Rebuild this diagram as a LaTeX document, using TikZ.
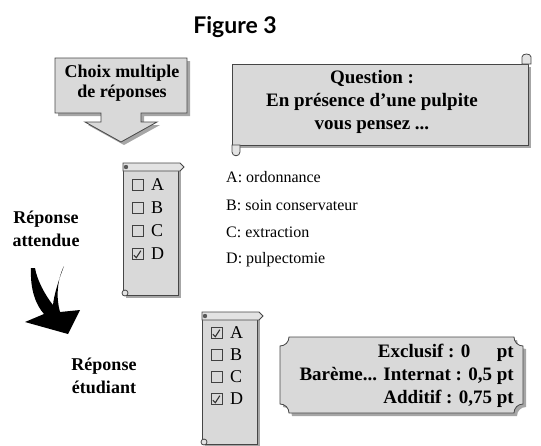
\documentclass[tikz,border=0pt]{standalone}
\usepackage{fontspec}
\setmainfont{Liberation Serif}
\newfontfamily\titrefont{Lato}
\usetikzlibrary{positioning}

\tikzset{
  fond/.style={fill=gray!30, draw=gray!55!black, line width=0.8pt,
    preaction={fill=gray!70, draw=none, transform canvas={shift={(3pt,-3pt)}}}},
  barre/.style={fill=gray!22, draw=gray!55!black, line width=0.8pt},
  gras/.style={font=\bfseries\fontsize{18}{23}\selectfont, align=center, inner sep=0pt},
  reponse/.style={font=\fontsize{16}{18}\selectfont, anchor=west, inner sep=0pt},
  case/.style={draw=black!75, line width=1.3pt, minimum size=11pt, inner sep=0pt},
  lettre/.style={font=\fontsize{18}{20}\selectfont, anchor=west, inner sep=0pt},
  coche/.style={line width=1.1pt, black!80},
  rouleau/.pic={
    \filldraw[fond] (0,4) rectangle (55,132);
    \filldraw[barre] (0,0) -- (57,0) -- (61,4) -- (57,8) -- (0,8) -- cycle;
    \fill[black!65] (3,4) circle (2.2);
    \filldraw[barre] (2,130) circle (3);
  },
}

\begin{document}
\begin{tikzpicture}[x=1pt, y=-1pt]
    \useasboundingbox (0,0) rectangle (541,445);

    % Titre
    \node[font=\titrefont\bfseries\fontsize{23}{26}\selectfont] (titre) at (235,27) {Figure 3};

    % Fleche "choix multiple"
    \filldraw[fond] (55,58) -- (187,58) -- (187,113) -- (141,113) -- (141,122) -- (157,122)
        -- (121,142) -- (85,122) -- (101,122) -- (101,113) -- (55,113) -- cycle;
    \node[gras, font=\bfseries\fontsize{18}{20}\selectfont] (choix) at (122,83) {Choix multiple\\de réponses};

    % Parchemin de la question
    \filldraw[fond] (232,64) rectangle (528,145);
    \filldraw[barre] (522,64) -- (522,57) .. controls (522,53) and (531,53) .. (531,57) -- (531,64) -- cycle;
    \filldraw[barre] (232,145) -- (232,152) .. controls (232,157) and (240,157) .. (240,152) -- (240,145) -- cycle;
    \node[gras, font=\bfseries\fontsize{19}{23}\selectfont] (question) at (372,102)
        {Question :\\En présence d'une pulpite\\vous pensez ...};

    % Propositions
    \node[reponse] (repA) at (226,177) {A: ordonnance};
    \node[reponse] (repB) at (226,205) {B: soin conservateur};
    \node[reponse] (repC) at (226,232) {C: extraction};
    \node[reponse] (repD) at (226,260) {D: pulpectomie};

    % Reponse attendue
    \pic at (123,163) {rouleau};
    \foreach \l/\dy in {A/22,B/45,C/68,D/91} {
        \node[case] (att\l) at (138,163+\dy) {};
        \node[lettre] (latt\l) at (151,163+\dy) {\l};
    }
    \draw[coche] (attD.south west) ++(2,-5) -- ++(2.5,2.5) -- ++(4.5,-7);
    \node[gras] (attendue) at (46,229) {Réponse\\attendue};

    % Fleche courbe
    \fill[black] (31,268) .. controls (30,290) and (36,305) .. (44,314) -- (25,322) -- (68,334)
        -- (80,310) -- (60,312) .. controls (56,298) and (57,280) .. (64,266)
        .. controls (58,282) and (54,295) .. (53,305) .. controls (45,295) and (37,280) .. (35,268) -- cycle;

    % Reponse etudiant
    \node[gras] (etudiant) at (104,376) {Réponse\\étudiant};
    \pic at (202,312) {rouleau};
    \foreach \l/\dy in {A/21,B/43,C/65,D/87} {
        \node[case] (etu\l) at (217,312+\dy) {};
        \node[lettre] (letu\l) at (230,312+\dy) {\l};
    }
    \draw[coche] (etuA.south west) ++(2,-5) -- ++(2.5,2.5) -- ++(4.5,-7);
    \draw[coche] (etuD.south west) ++(2,-5) -- ++(2.5,2.5) -- ++(4.5,-7);

    % Bareme
    \filldraw[fond] (289,337) -- (514,337) .. controls (514,342) and (518,346) .. (523,346)
        -- (523,404) .. controls (518,404) and (514,408) .. (514,413) -- (289,413)
        .. controls (289,408) and (285,404) .. (280,404) -- (280,346)
        .. controls (285,346) and (289,342) .. (289,337) -- cycle;
    \node[gras, font=\bfseries\fontsize{19}{23}\selectfont, align=right, anchor=east] (bareme) at (514,376)
        {Exclusif : 0\hspace{1.4em}pt\\Barème... Internat : 0,5 pt\\Additif : 0,75 pt};
\end{tikzpicture}
\end{document}
